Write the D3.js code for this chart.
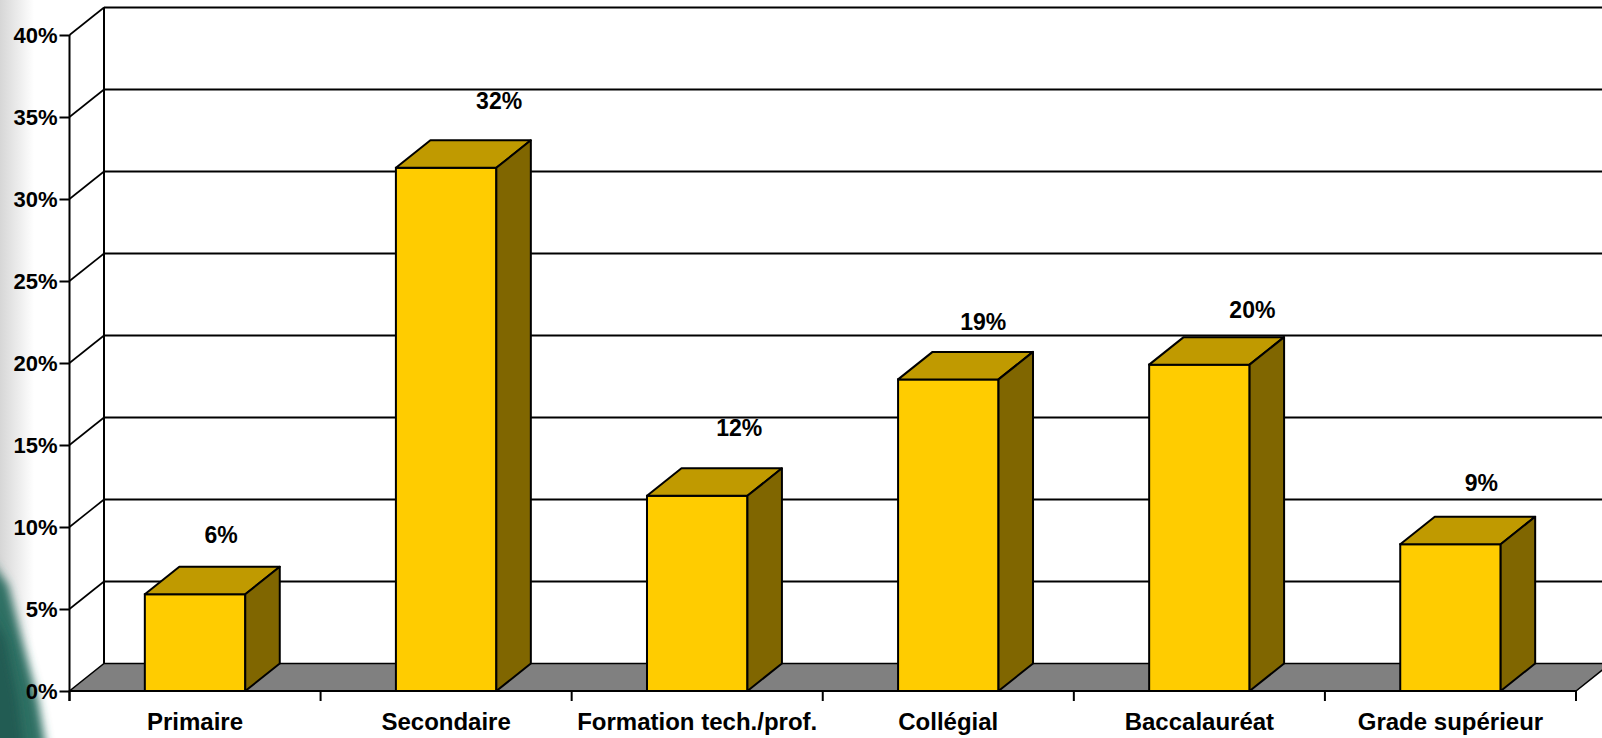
<!DOCTYPE html>
<html>
<head>
<meta charset="utf-8">
<script src="https://cdn.jsdelivr.net/npm/d3@7"></script>
<style>
  html, body { margin: 0; padding: 0; background: #fff; }
  svg { display: block; font-family: "Liberation Sans", Arial, sans-serif; font-weight: bold; }
</style>
</head>
<body>
<svg width="1602" height="738"></svg>
<script>
'use strict';

// chart data
var categories = ["Primaire", "Secondaire", "Formation tech./prof.", "Collégial", "Baccalauréat", "Grade supérieur"];
var values = [5.9, 31.9, 11.9, 19.0, 19.9, 8.95];
var valueLabels = ["6%", "32%", "12%", "19%", "20%", "9%"];
var yTicks = [0, 5, 10, 15, 20, 25, 30, 35, 40];

// label nudges (layout only), relative to bar centre / back top edge
var labelNudge = [[26, -24], [53, -31], [42, -32], [35, -22], [53, -19], [31, -26]];

document.addEventListener('DOMContentLoaded', function() {

	var svg = d3.select("svg");
	var W = 1602, H = 738;
	var left = 69.5, right = 1576, bottom = 691, top = 35;
	var dx = 34.5, dy = 27.5;   // depth offset of the 3d box

	var x = d3.scaleBand().domain(categories).range([left, right]).paddingInner(0.6).paddingOuter(0.3);
	var xs = d3.scaleBand().domain(categories).range([left, right]).padding(0);
	var y = d3.scaleLinear().domain([0, 40]).range([bottom, top]);

	// background: soft grey edge and teal swirl at bottom left
	var defs = svg.append("defs");
	var grad = defs.append("linearGradient").attr("id", "edge").attr("x1", 0).attr("x2", 1).attr("y1", 0).attr("y2", 0);
	grad.append("stop").attr("offset", 0).attr("stop-color", "#d6d6d6");
	grad.append("stop").attr("offset", 1).attr("stop-color", "#ffffff");
	defs.append("filter").attr("id", "blur").attr("x", "-50%").attr("y", "-50%").attr("width", "200%").attr("height", "200%")
		.append("feGaussianBlur").attr("stdDeviation", 5);

	svg.append("rect").attr("width", W).attr("height", H).attr("fill", "#fff");
	svg.append("rect").attr("width", 34).attr("height", H).attr("fill", "url(#edge)");
	svg.append("path")
		.attr("d", "M-10,560 L8,585 L22,640 L38,700 L46,748 L-10,748 Z")
		.attr("fill", "#2f6f64")
		.attr("filter", "url(#blur)");
	svg.append("path")
		.attr("d", "M-10,610 L6,640 L18,700 L24,748 L-10,748 Z")
		.attr("fill", "#245b52")
		.attr("filter", "url(#blur)");

	var g = svg.append("g");

	// back wall and side wall grid lines
	yTicks.forEach(function(t) {
		if (t === 0) return;
		g.append("line")
			.attr("x1", left + dx).attr("x2", W + 10)
			.attr("y1", y(t) - dy).attr("y2", y(t) - dy)
			.attr("stroke", "#000").attr("stroke-width", 2);
		g.append("line")
			.attr("x1", left).attr("x2", left + dx)
			.attr("y1", y(t)).attr("y2", y(t) - dy)
			.attr("stroke", "#000").attr("stroke-width", 1.6);
	});

	// back wall left edge
	g.append("line")
		.attr("x1", left + dx).attr("x2", left + dx)
		.attr("y1", y(40) - dy).attr("y2", y(0) - dy)
		.attr("stroke", "#000").attr("stroke-width", 2);

	// floor
	g.append("path")
		.attr("d", "M" + left + "," + bottom + "L" + right + "," + bottom +
			"L" + (right + dx) + "," + (bottom - dy) + "L" + (left + dx) + "," + (bottom - dy) + "Z")
		.attr("fill", "#808080")
		.attr("stroke", "#000").attr("stroke-width", 1.5);

	// 3d bars
	var bars = g.selectAll(".bar")
		.data(categories)
		.enter().append("g")
			.attr("class", "bar");

	bars.append("rect")
		.attr("x", function(d) { return x(d); })
		.attr("y", function(d, i) { return y(values[i]); })
		.attr("width", x.bandwidth())
		.attr("height", function(d, i) { return y(0) - y(values[i]); })
		.attr("fill", "#ffcc00")
		.attr("stroke", "#000").attr("stroke-width", 2);

	bars.append("path")
		.attr("d", function(d, i) {
			var x0 = x(d), x1 = x(d) + x.bandwidth(), yt = y(values[i]);
			return "M" + x0 + "," + yt + "L" + (x0 + dx) + "," + (yt - dy) +
				"L" + (x1 + dx) + "," + (yt - dy) + "L" + x1 + "," + yt + "Z";
		})
		.attr("fill", "#c09a00")
		.attr("stroke", "#000").attr("stroke-width", 2).attr("stroke-linejoin", "round");

	bars.append("path")
		.attr("d", function(d, i) {
			var x1 = x(d) + x.bandwidth(), yt = y(values[i]), yb = y(0);
			return "M" + x1 + "," + yt + "L" + (x1 + dx) + "," + (yt - dy) +
				"L" + (x1 + dx) + "," + (yb - dy) + "L" + x1 + "," + yb + "Z";
		})
		.attr("fill", "#806600")
		.attr("stroke", "#000").attr("stroke-width", 2).attr("stroke-linejoin", "round");

	// value labels
	bars.append("text")
		.attr("x", function(d, i) { return x(d) + x.bandwidth() / 2 + labelNudge[i][0]; })
		.attr("y", function(d, i) { return y(values[i]) - dy + labelNudge[i][1]; })
		.attr("text-anchor", "middle")
		.attr("font-size", "23px")
		.attr("fill", "#000")
		.text(function(d, i) { return valueLabels[i]; });

	// y axis
	var yAxis = g.append("g")
		.attr("transform", "translate(" + left + ",0)")
		.call(d3.axisLeft(y).tickValues(yTicks).tickSize(10).tickSizeOuter(0).tickPadding(2)
			.tickFormat(function(d) { return d + "%"; }));
	yAxis.select(".domain").remove();
	yAxis.selectAll("line").attr("stroke", "#000").attr("stroke-width", 2);
	yAxis.selectAll("text")
		.attr("font-size", "22px")
		.attr("font-family", "Liberation Sans, Arial, sans-serif")
		.attr("font-weight", "bold")
		.attr("fill", "#000");
	g.append("line")
		.attr("x1", left).attr("x2", left)
		.attr("y1", y(40)).attr("y2", bottom + 10)
		.attr("stroke", "#000").attr("stroke-width", 2);

	// x axis: front edge, ticks at category boundaries, labels centred
	g.append("line")
		.attr("x1", left).attr("x2", right)
		.attr("y1", bottom).attr("y2", bottom)
		.attr("stroke", "#000").attr("stroke-width", 2);
	var bounds = categories.map(function(c) { return xs(c); }).concat([right]);
	g.selectAll(".xtick")
		.data(bounds)
		.enter().append("line")
			.attr("class", "xtick")
			.attr("x1", function(d) { return d; }).attr("x2", function(d) { return d; })
			.attr("y1", bottom).attr("y2", bottom + 10)
			.attr("stroke", "#000").attr("stroke-width", 2);
	g.selectAll(".xlabel")
		.data(categories)
		.enter().append("text")
			.attr("class", "xlabel")
			.attr("x", function(d) { return xs(d) + xs.bandwidth() / 2; })
			.attr("y", 730)
			.attr("text-anchor", "middle")
			.attr("font-size", "24px")
			.attr("fill", "#000")
			.text(function(d) { return d; });
});
</script>
</body>
</html>
